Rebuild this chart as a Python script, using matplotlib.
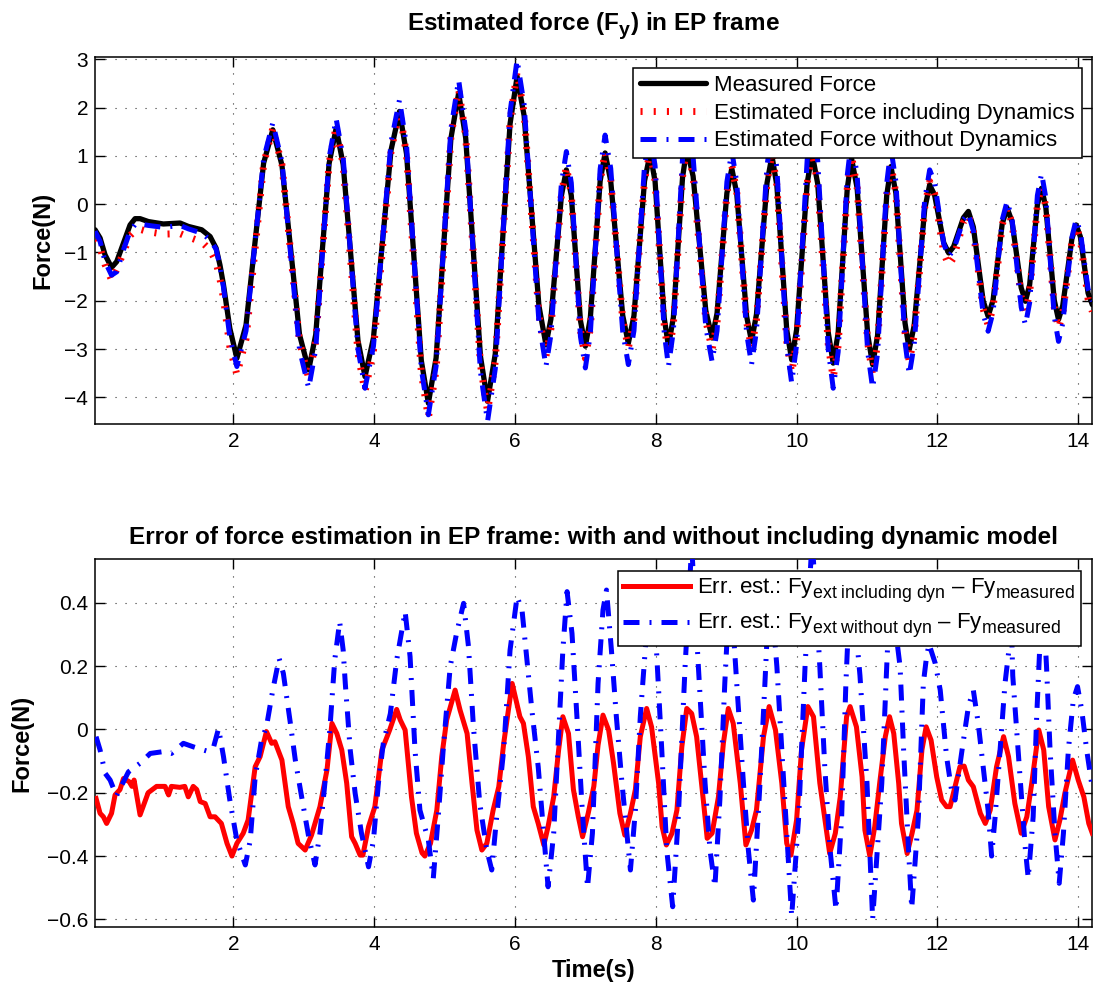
import matplotlib
matplotlib.use('Agg')
import matplotlib.pyplot as plt
try:
    import matplotlib._mathtext as _mt
    _mt.SHRINK_FACTOR = 0.8
    _base = _mt.FontConstantsBase
    _classes = [_base] + [c for c in vars(_mt).values()
                          if isinstance(c, type) and issubclass(c, _base) and c is not _base]
    for _c in _classes:
        _c.sub1 = 0.42
        _c.sub2 = 0.6
except Exception:
    pass

plt.rcParams['font.family'] = ['Liberation Sans', 'DejaVu Sans']
plt.rcParams['mathtext.fontset'] = 'custom'
plt.rcParams['mathtext.rm'] = 'Liberation Sans'
plt.rcParams['mathtext.bf'] = 'Liberation Sans:bold'
plt.rcParams['mathtext.it'] = 'Liberation Sans:italic'

# ---------------- data: top panel (force, N) ----------------
t_force = [0.036, 0.107, 0.178, 0.27, 0.343, 0.438, 0.533, 0.604, 0.675, 0.793,
           1.006, 1.243, 1.36, 1.55, 1.67, 1.755, 1.81, 1.86, 1.95,
           2.05, 2.18, 2.43, 2.56, 2.69, 2.94, 3.07, 3.17, 3.36, 3.46, 3.56, 3.77,
           3.87, 3.99, 4.24, 4.36, 4.46, 4.67, 4.77, 4.88, 5.09, 5.20, 5.30, 5.51,
           5.61, 5.72, 5.93, 6.03, 6.13, 6.34, 6.44, 6.51, 6.66, 6.73, 6.80, 6.93,
           7.00, 7.07, 7.21, 7.28, 7.36, 7.53, 7.61, 7.69, 7.84, 7.92, 7.99, 8.12,
           8.18, 8.25, 8.38, 8.44, 8.53, 8.71, 8.80, 8.87, 9.01, 9.08, 9.15, 9.29,
           9.36, 9.43, 9.58, 9.65, 9.72, 9.86, 9.93, 10.00, 10.15, 10.22, 10.30, 10.45,
           10.52, 10.59, 10.72, 10.78, 10.86, 11.01, 11.08, 11.15, 11.28, 11.34, 11.41, 11.54,
           11.60, 11.67, 11.82, 11.89, 11.96, 12.09, 12.16, 12.23, 12.37, 12.44, 12.51, 12.65,
           12.72, 12.79, 12.92, 12.99, 13.06, 13.19, 13.25, 13.31, 13.42, 13.48, 13.54, 13.66,
           13.72, 13.78, 13.91, 13.97, 14.03, 14.14, 14.20]
measured = [-0.53, -0.70, -1.05, -1.31, -1.19, -0.81, -0.43, -0.30, -0.30, -0.36,
            -0.41, -0.39, -0.46, -0.53, -0.67, -0.91, -1.26, -1.67, -2.57,
            -3.19, -2.50, 0.85, 1.54, 0.81, -2.70, -3.43, -2.70, 0.84, 1.57, 0.82, -2.82,
            -3.57, -2.77, 1.12, 1.92, 1.04, -3.24, -4.12, -3.18, 1.36, 2.30, 1.37, -3.15,
            -4.08, -3.10, 1.66, 2.64, 1.83, -2.10, -2.91, -2.38, 0.18, 0.71, 0.18, -2.41,
            -2.94, -2.36, 0.48, 1.06, 0.48, -2.30, -2.88, -2.31, 0.48, 1.05, 0.47, -2.36,
            -2.94, -2.34, 0.55, 1.15, 0.58, -2.20, -2.77, -2.26, 0.23, 0.74, 0.22, -2.32,
            -2.84, -2.28, 0.44, 1.00, 0.38, -2.60, -3.22, -2.60, 0.43, 1.05, 0.42, -2.66,
            -3.29, -2.67, 0.33, 0.95, 0.33, -2.70, -3.32, -2.72, 0.18, 0.78, 0.23, -2.46,
            -3.01, -2.51, -0.10, 0.40, 0.19, -0.80, -1.01, -0.88, -0.28, -0.15, -0.47, -2.00,
            -2.32, -1.99, -0.41, -0.08, -0.36, -1.73, -2.01, -1.67, -0.01, 0.33, -0.07, -1.99,
            -2.39, -2.10, -0.72, -0.43, -0.67, -1.84, -2.08]
est_incl_dyn = [-0.74, -0.90, -1.25, -1.57, -1.35, -1.00, -0.65, -0.55, -0.52, -0.57,
                -0.62, -0.61, -0.68, -0.78, -0.95, -1.20, -1.55, -1.95, -2.95,
                -3.53, -2.79, 0.83, 1.57, 0.82, -2.85, -3.60, -2.84, 0.85, 1.61, 0.81, -3.08,
                -3.88, -3.03, 1.10, 1.95, 1.02, -3.49, -4.42, -3.43, 1.39, 2.38, 1.41, -3.32,
                -4.29, -3.26, 1.71, 2.74, 1.88, -2.29, -3.15, -2.58, 0.21, 0.78, 0.20, -2.61,
                -3.19, -2.57, 0.47, 1.09, 0.50, -2.39, -2.98, -2.38, 0.50, 1.10, 0.48, -2.50,
                -3.12, -2.49, 0.57, 1.20, 0.59, -2.40, -3.01, -2.45, 0.24, 0.80, 0.25, -2.43,
                -2.98, -2.39, 0.46, 1.05, 0.39, -2.84, -3.50, -2.83, 0.43, 1.10, 0.41, -2.91,
                -3.60, -2.93, 0.33, 1.00, 0.34, -2.87, -3.53, -2.89, 0.18, 0.82, 0.22, -2.66,
                -3.26, -2.72, -0.07, 0.47, 0.22, -1.01, -1.26, -1.11, -0.37, -0.22, -0.55, -2.17,
                -2.50, -2.15, -0.43, -0.08, -0.39, -1.91, -2.22, -1.84, -0.01, 0.37, -0.06, -2.14,
                -2.57, -2.26, -0.77, -0.46, -0.72, -1.96, -2.22]
est_no_dyn = [-0.56, -0.77, -1.19, -1.47, -1.40, -0.95, -0.56, -0.42, -0.41, -0.44,
              -0.48, -0.44, -0.51, -0.60, -0.74, -0.93, -1.28, -1.72, -2.75,
              -3.36, -2.62, 0.94, 1.68, 0.88, -3.01, -3.81, -3.00, 0.96, 1.77, 0.96, -3.00,
              -3.81, -2.94, 1.29, 2.16, 1.21, -3.41, -4.36, -3.35, 1.56, 2.57, 1.54, -3.47,
              -4.50, -3.41, 1.90, 2.99, 2.06, -2.43, -3.36, -2.71, 0.44, 1.09, 0.44, -2.74,
              -3.39, -2.69, 0.73, 1.43, 0.74, -2.63, -3.32, -2.62, 0.80, 1.50, 0.79, -2.65,
              -3.36, -2.62, 0.96, 1.70, 0.98, -2.54, -3.26, -2.62, 0.46, 1.10, 0.45, -2.67,
              -3.32, -2.62, 0.80, 1.50, 0.74, -2.94, -3.70, -2.91, 0.91, 1.70, 0.90, -3.01,
              -3.81, -3.06, 0.60, 1.35, 0.60, -3.06, -3.81, -3.09, 0.43, 1.15, 0.47, -2.85,
              -3.53, -2.91, 0.09, 0.71, 0.45, -0.82, -1.08, -0.95, -0.32, -0.19, -0.55, -2.27,
              -2.63, -2.24, -0.33, 0.06, -0.31, -2.13, -2.50, -2.04, 0.18, 0.64, 0.13, -2.33,
              -2.84, -2.47, -0.69, -0.32, -0.57, -1.76, -2.01]

# ---------------- data: bottom panel (error, N) ----------------
t_err_incl = [0.05, 0.107, 0.154, 0.20, 0.27, 0.32, 0.39, 0.44, 0.52, 0.56,
              0.59, 0.675, 0.79, 0.91, 1.03, 1.08, 1.12, 1.24, 1.31, 1.36,
              1.43, 1.48, 1.53, 1.60, 1.67, 1.74, 1.83, 1.91, 1.98, 2.05,
              2.14, 2.21, 2.31, 2.38, 2.47, 2.545, 2.59, 2.69, 2.78, 2.85,
              2.92, 3.02, 3.11, 3.23, 3.33, 3.40, 3.47, 3.54, 3.61, 3.68,
              3.73, 3.80, 3.84, 3.92, 4.01, 4.11, 4.22, 4.32, 4.37, 4.44,
              4.53, 4.60, 4.68, 4.72, 4.80, 4.89, 4.96, 5.03, 5.15, 5.22,
              5.32, 5.39, 5.46, 5.53, 5.60, 5.69, 5.77, 5.84, 5.96, 6.07,
              6.12, 6.19, 6.26, 6.33, 6.41, 6.47, 6.55, 6.62, 6.68, 6.76,
              6.83, 6.90, 6.96, 7.04, 7.12, 7.18, 7.25, 7.33, 7.40, 7.49,
              7.56, 7.64, 7.71, 7.78, 7.87, 7.94, 8.04, 8.09, 8.15, 8.23,
              8.30, 8.37, 8.44, 8.51, 8.58, 8.68, 8.73, 8.80, 8.89, 8.96,
              9.03, 9.10, 9.20, 9.28, 9.36, 9.43, 9.53, 9.61, 9.70, 9.79,
              9.86, 9.92, 10.00, 10.07, 10.16, 10.24, 10.33, 10.41, 10.47, 10.55,
              10.62, 10.71, 10.76, 10.85, 10.93, 10.97, 11.04, 11.11, 11.18, 11.26,
              11.32, 11.38, 11.45, 11.49, 11.57, 11.64, 11.71, 11.78, 11.84, 11.91,
              11.99, 12.06, 12.13, 12.18, 12.25, 12.32, 12.38, 12.44, 12.51, 12.61,
              12.68, 12.75, 12.84, 12.94, 13.01, 13.10, 13.19, 13.27, 13.34, 13.44,
              13.51, 13.58, 13.67, 13.74, 13.81, 13.92, 14.00, 14.08, 14.15, 14.20]
err_incl_dyn = [-0.218, -0.265, -0.276, -0.297, -0.265, -0.207, -0.19, -0.155, -0.165, -0.18,
                -0.16, -0.27, -0.20, -0.18, -0.18, -0.207, -0.18, -0.183, -0.18, -0.213,
                -0.18, -0.19, -0.228, -0.234, -0.276, -0.276, -0.297, -0.36, -0.40, -0.36,
                -0.328, -0.286, -0.118, -0.086, -0.007, -0.044, -0.039, -0.097, -0.244, -0.297,
                -0.36, -0.381, -0.334, -0.244, -0.128, 0.019, -0.013, -0.065, -0.17, -0.339,
                -0.36, -0.397, -0.397, -0.307, -0.244, -0.065, -0.002, 0.063, 0.03, -0.002,
                -0.213, -0.328, -0.39, -0.40, -0.36, -0.255, -0.086, 0.03, 0.124, 0.061,
                -0.013, -0.17, -0.318, -0.381, -0.36, -0.255, -0.181, -0.044, 0.145, 0.04,
                0.019, -0.086, -0.244, -0.297, -0.365, -0.307, -0.213, -0.065, 0.04, -0.013,
                -0.19, -0.276, -0.339, -0.265, -0.18, -0.05, 0.045, -0.002, -0.107, -0.265,
                -0.334, -0.265, -0.19, -0.023, 0.066, 0.008, -0.17, -0.307, -0.365, -0.328,
                -0.255, -0.055, 0.066, 0.05, -0.023, -0.234, -0.344, -0.328, -0.213, -0.044,
                0.066, 0.019, -0.17, -0.365, -0.318, -0.255, -0.023, 0.072, -0.002, -0.17,
                -0.36, -0.397, -0.286, -0.065, 0.072, 0.04, -0.17, -0.297, -0.392, -0.328,
                -0.213, 0.04, 0.072, 0.008, -0.15, -0.318, -0.40, -0.307, -0.17, -0.023,
                0.04, -0.013, -0.17, -0.297, -0.392, -0.328, -0.255, -0.065, 0.008, -0.034,
                -0.15, -0.223, -0.244, -0.244, -0.181, -0.118, -0.116, -0.16, -0.181, -0.265,
                -0.297, -0.255, -0.118, -0.023, -0.086, -0.234, -0.328, -0.276, -0.17, -0.002,
                -0.065, -0.244, -0.349, -0.286, -0.202, -0.097, -0.16, -0.213, -0.297, -0.328]

t_err_no = [0.05, 0.107, 0.18, 0.25, 0.34, 0.51, 0.675, 0.82, 1.01, 1.12,
            1.29, 1.43, 1.57, 1.65, 1.72, 1.79, 1.86, 1.95, 2.05, 2.17,
            2.24, 2.31, 2.40, 2.47, 2.56, 2.65, 2.71, 2.81, 2.88, 2.97,
            3.07, 3.16, 3.23, 3.30, 3.37, 3.44, 3.51, 3.56, 3.59, 3.66,
            3.73, 3.82, 3.92, 3.99, 4.06, 4.13, 4.23, 4.32, 4.44, 4.51,
            4.58, 4.65, 4.77, 4.84, 4.91, 4.98, 5.08, 5.17, 5.27, 5.34,
            5.41, 5.50, 5.60, 5.67, 5.74, 5.84, 5.93, 6.03, 6.10, 6.17,
            6.24, 6.33, 6.40, 6.47, 6.55, 6.62, 6.68, 6.74, 6.81, 6.88,
            6.95, 7.03, 7.10, 7.18, 7.25, 7.30, 7.37, 7.44, 7.52, 7.59,
            7.64, 7.71, 7.78, 7.85, 7.92, 8.01, 8.085, 8.156, 8.24, 8.32,
            8.416, 8.51, 8.605, 8.70, 8.77, 8.84, 8.91, 8.98, 9.055, 9.15,
            9.245, 9.315, 9.386, 9.48, 9.55, 9.62, 9.72, 9.79, 9.86, 9.93,
            10.03, 10.12, 10.22, 10.29, 10.33, 10.40, 10.476, 10.56, 10.64, 10.70,
            10.77, 10.90, 11.00, 11.04, 11.08, 11.21, 11.28, 11.33, 11.47, 11.52,
            11.59, 11.635, 11.73, 11.80, 11.84, 11.88, 11.97, 12.04, 12.13, 12.20,
            12.25, 12.35, 12.44, 12.51, 12.58, 12.65, 12.72, 12.77, 12.82, 12.89,
            12.96, 13.01, 13.05, 13.07, 13.18, 13.25, 13.29, 13.36, 13.41, 13.45,
            13.49, 13.55, 13.60, 13.67, 13.73, 13.79, 13.86, 13.93, 13.99, 14.05,
            14.12, 14.19]
err_no_dyn = [-0.023, -0.065, -0.139, -0.16, -0.21, -0.134, -0.107, -0.076, -0.07, -0.076,
              -0.044, -0.055, -0.065, -0.07, -0.055, 0.003, -0.086, -0.223, -0.35, -0.428,
              -0.35, -0.15, -0.034, 0.008, 0.124, 0.224, 0.177, 0.019, -0.097, -0.213,
              -0.339, -0.428, -0.328, -0.17, -0.002, 0.219, 0.34, 0.25, 0.145, -0.065,
              -0.202, -0.328, -0.434, -0.35, -0.17, -0.044, 0.05, 0.219, 0.372, 0.23,
              -0.065, -0.255, -0.35, -0.47, -0.276, -0.065, 0.198, 0.303, 0.398, 0.261,
              0.008, -0.234, -0.381, -0.444, -0.276, -0.065, 0.25, 0.419, 0.377, 0.219,
              0.061, -0.118, -0.307, -0.497, -0.328, -0.013, 0.25, 0.435, 0.303, 0.04,
              -0.234, -0.50, -0.328, 0.145, 0.377, 0.44, 0.25, 0.04, -0.17, -0.328,
              -0.444, -0.255, 0.04, 0.25, 0.47, 0.25, -0.065, -0.381, -0.56, -0.276,
              0.198, 0.58, 0.198, -0.17, -0.381, -0.497, -0.223, 0.145, 0.47, 0.145,
              -0.17, -0.381, -0.539, -0.17, 0.145, 0.48, 0.198, -0.065, -0.328, -0.59,
              -0.276, 0.198, 0.60, 0.356, 0.198, -0.118, -0.381, -0.57, -0.276, 0.145,
              0.50, 0.17, -0.17, -0.381, -0.60, -0.17, 0.198, 0.45, 0.198, -0.065,
              -0.381, -0.565, -0.276, 0.145, 0.219, 0.27, 0.208, 0.124, -0.086, -0.19,
              -0.223, -0.065, 0.072, 0.124, 0.019, -0.118, -0.255, -0.40, -0.276, -0.065,
              0.145, 0.24, 0.35, 0.17, -0.17, -0.38, -0.47, -0.276, 0.04, 0.24,
              0.45, 0.198, -0.065, -0.328, -0.486, -0.328, -0.065, 0.093, 0.135, 0.061,
              -0.065, -0.17]

x_ticks = [2, 4, 6, 8, 10, 12, 14]
top_yticks = [-4, -3, -2, -1, 0, 1, 2, 3]
bot_yticks = [-0.6, -0.4, -0.2, 0.0, 0.2, 0.4]
bot_yticklabels = ['\u22120.6', '\u22120.4', '\u22120.2', '0', '0.2', '0.4']

labels_top = ['Measured Force', 'Estimated Force including Dynamics',
              'Estimated Force without Dynamics']
labels_bot = ['Err. est.: Fy$_{\\mathrm{ext\\ including\\ dyn}}$ \u2013 Fy$_{\\mathrm{measured}}$',
              'Err. est.: Fy$_{\\mathrm{ext\\ without\\ dyn}}$ \u2013 Fy$_{\\mathrm{measured}}$']

# ---------------- figure ----------------
W, H = 1097, 991
fig = plt.figure(figsize=(W / 100, H / 100), dpi=100)
ax1 = fig.add_axes([95 / W, 1 - 424 / H, 997.3 / W, 366.7 / H])
ax2 = fig.add_axes([95 / W, 1 - 926.7 / H, 997.3 / W, 367.4 / H])

dashdot = (0, (3.2, 2.0, 0.4, 2.0))
dotted_red = (0, (0.3, 1.6))

l1, = ax1.plot(t_force, measured, color='black', lw=3.8, solid_joinstyle='round',
               solid_capstyle='round', label=labels_top[0], zorder=3)
l2, = ax1.plot(t_force, est_incl_dyn, color='#ff0000', lw=5.0, linestyle=dotted_red,
               dash_capstyle='butt', label=labels_top[1], zorder=4)
l3, = ax1.plot(t_force, est_no_dyn, color='#0000ff', lw=3.6, linestyle=dashdot,
               dash_capstyle='butt', label=labels_top[2], zorder=5)

m1, = ax2.plot(t_err_incl, err_incl_dyn, color='#ff0000', lw=3.6,
               solid_joinstyle='round', label=labels_bot[0], zorder=3)
m2, = ax2.plot(t_err_no, err_no_dyn, color='#0000ff', lw=3.6, linestyle=dashdot,
               dash_capstyle='butt', label=labels_bot[1], zorder=4)

for ax in (ax1, ax2):
    ax.set_xlim(0.035, 14.2)
    ax.set_xticks(x_ticks)
    ax.tick_params(direction='in', length=7, width=1.0, top=True, right=True,
                   labelsize=15, pad=6)
    ax.tick_params(axis='y', pad=5)
    ax.grid(True, linestyle=(0, (1, 8)), color='#333333', linewidth=0.8)
    for sp in ax.spines.values():
        sp.set_linewidth(1.1)

ax1.set_ylim(-4.55, 3.04)
ax1.set_yticks(top_yticks)
ax2.set_ylim(-0.623, 0.537)
ax2.set_yticks(bot_yticks)
ax2.set_yticklabels(bot_yticklabels)

ax1.set_title('Estimated force (F$_\\mathbf{y}$) in EP frame', fontsize=17.5,
              fontweight='bold', pad=19)
ax2.set_title('Error of force estimation in EP frame: with and without including dynamic model',
              fontsize=17.5, fontweight='bold', pad=11)

ax1.set_ylabel('Force(N)', fontsize=17, fontweight='bold')
ax1.yaxis.label.set_va('center')
ax1.yaxis.set_label_coords((43 - 95) / 997.3, 0.5)
ax2.set_ylabel('Force(N)', fontsize=17, fontweight='bold')
ax2.yaxis.label.set_va('center')
ax2.yaxis.set_label_coords((22 - 95) / 997.3, 0.5)
ax2.set_xlabel('Time(s)', fontsize=17, fontweight='bold')
ax2.xaxis.label.set_va('center')
ax2.xaxis.set_label_coords(0.5, (926.7 - 970) / 367.4)

leg1 = ax1.legend(handles=[l1, l2, l3], loc='upper right',
                  bbox_to_anchor=((1081.7 - 95) / 997.3, (424 - 68.3) / 366.7),
                  borderaxespad=0, fontsize=16, handlelength=3.0, handletextpad=0.37,
                  borderpad=0.3, labelspacing=0.30, fancybox=False, framealpha=1,
                  edgecolor='black')
leg1.get_frame().set_linewidth(1.1)
leg2 = ax2.legend(handles=[m1, m2], loc='upper right',
                  bbox_to_anchor=((1081 - 95) / 997.3, (926.7 - 571) / 367.4),
                  borderaxespad=0, fontsize=16, handlelength=3.0, handletextpad=0.34,
                  borderpad=0.25, labelspacing=0.35, fancybox=False, framealpha=1,
                  edgecolor='black')
leg2.get_frame().set_linewidth(1.1)

fig.savefig('out.png', dpi=100)
